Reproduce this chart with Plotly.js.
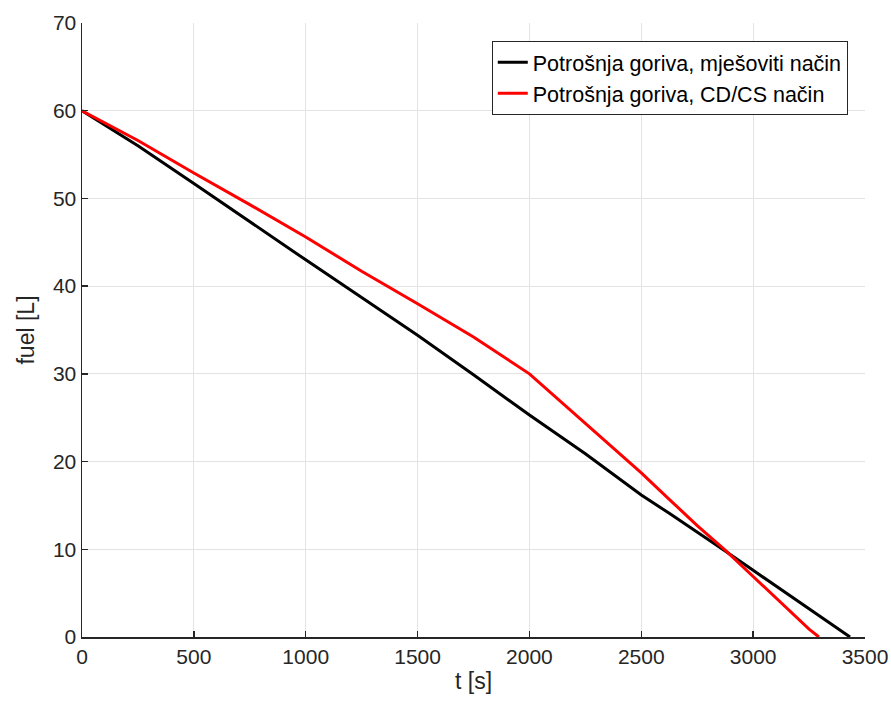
<!DOCTYPE html>
<html>
<head>
<meta charset="utf-8">
<script src="https://cdn.plot.ly/plotly-3.0.1.min.js"></script>
<style>html,body{margin:0;padding:0;background:#fff;}#chart{width:891px;height:713px;}</style>
</head>
<body>
<div id="chart"></div>
<script>
// Data
const tMixed = [0, 125, 250, 500, 750, 1000, 1250, 1500, 1750, 2000, 2250, 2500, 2625, 2750, 2875, 3000, 3125, 3250, 3433];
const fuelMixed = [60, 58.0, 56.0, 51.7, 47.4, 43.0, 38.7, 34.4, 29.9, 25.3, 20.9, 16.2, 14.1, 12.0, 9.8, 7.6, 5.4, 3.3, 0];
const tCDCS = [0, 125, 250, 500, 750, 1000, 1250, 1500, 1750, 2000, 2250, 2500, 2625, 2750, 2875, 3000, 3125, 3250, 3294];
const fuelCDCS = [60, 58.3, 56.6, 52.9, 49.3, 45.6, 41.7, 38.0, 34.2, 30.0, 24.3, 18.7, 15.7, 12.7, 9.9, 6.9, 3.8, 0.9, 0];
const seriesNames = ["Potrošnja goriva, mješoviti način", "Potrošnja goriva, CD/CS način"];
const xTicks = [0, 500, 1000, 1500, 2000, 2500, 3000, 3500];
const yTicks = [0, 10, 20, 30, 40, 50, 60, 70];

const traces = [
  {x: tMixed, y: fuelMixed, name: seriesNames[0], mode: "lines", line: {color: "#000000", width: 3}},
  {x: tCDCS, y: fuelCDCS, name: seriesNames[1], mode: "lines", line: {color: "#ff0000", width: 3}}
];

const FONT = "Liberation Sans, Arial, sans-serif";
const axisCommon = {
  showline: true, linecolor: "#262626", linewidth: 1.5, mirror: false,
  showgrid: true, gridcolor: "#e3e3e3", gridwidth: 1,
  zeroline: false, ticks: "inside", ticklen: 6, tickwidth: 1.5, tickcolor: "#262626",
  tickfont: {family: FONT, size: 21, color: "#262626"}
};

const layout = {
  width: 891, height: 713,
  margin: {l: 82, r: 26, t: 23, b: 76},
  paper_bgcolor: "#ffffff", plot_bgcolor: "#ffffff",
  showlegend: true,
  xaxis: Object.assign({}, axisCommon, {
    range: [0, 3500], tickvals: xTicks, ticktext: xTicks.map(String),
    title: {text: "t [s]", font: {family: FONT, size: 23, color: "#262626"}, standoff: 6}
  }),
  yaxis: Object.assign({}, axisCommon, {
    range: [0, 70], tickvals: yTicks, ticktext: yTicks.map(String),
    title: {text: "fuel [L]", font: {family: FONT, size: 23, color: "#262626"}, standoff: 12}
  }),
  legend: {
    x: 0.978, xanchor: "right", y: 0.971, yanchor: "top",
    bgcolor: "#ffffff", bordercolor: "#262626", borderwidth: 1,
    font: {family: FONT, size: 21.5, color: "#000000"},
    tracegroupgap: 0
  }
};

Plotly.newPlot("chart", traces, layout, {displayModeBar: false, staticPlot: true});
</script>
</body>
</html>
